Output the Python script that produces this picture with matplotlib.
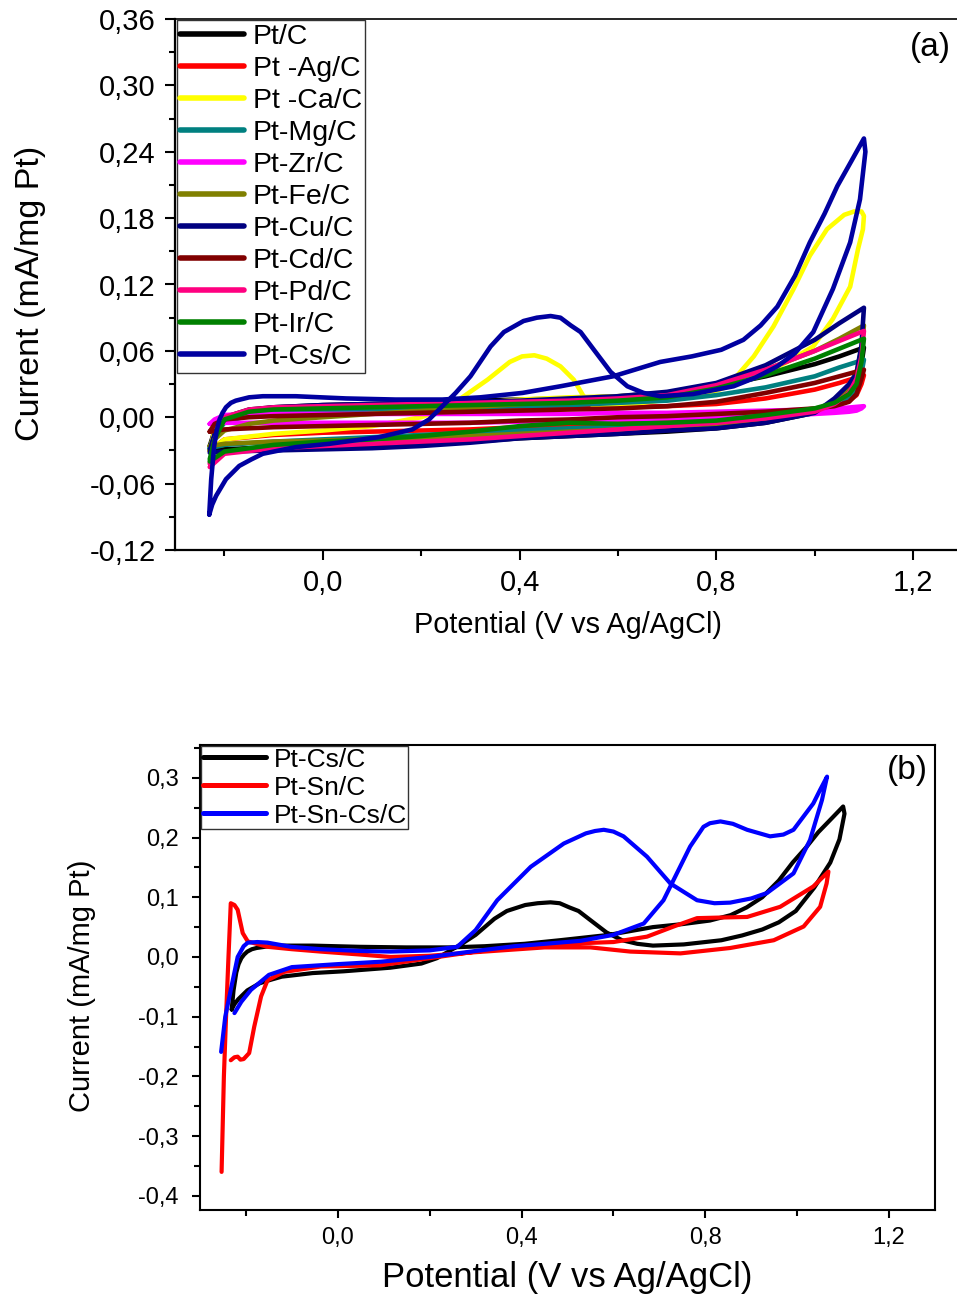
import numpy as np
import matplotlib
matplotlib.use('Agg')
import matplotlib.pyplot as plt
from matplotlib import font_manager
from matplotlib.ticker import MultipleLocator, FuncFormatter

names = {f.name for f in font_manager.fontManager.ttflist}
BASE = 'Liberation Sans' if 'Liberation Sans' in names else 'DejaVu Sans'
plt.rcParams['font.family'] = [BASE, 'DejaVu Sans']

# ---------------- Panel (a) data ----------------
E_fwd = [-0.23, -0.22, -0.20, -0.15, -0.10, 0.00, 0.10, 0.20, 0.30, 0.40, 0.50, 0.60,
         0.70, 0.80, 0.90, 1.00, 1.05, 1.10]
E_rev = [1.10, 1.095, 1.085, 1.07, 1.04, 1.00, 0.90, 0.80, 0.70, 0.60, 0.50, 0.40,
         0.30, 0.20, 0.10, 0.00, -0.10, -0.20, -0.23]

PtC_fwd = [-0.026, -0.012, 0.000, 0.007, 0.009, 0.011, 0.012, 0.013, 0.015, 0.016, 0.017, 0.019,
           0.022, 0.028, 0.037, 0.048, 0.055, 0.063]
PtC_rev = [0.063, 0.048, 0.030, 0.020, 0.011, 0.004, -0.005, -0.010, -0.013, -0.015, -0.017, -0.019,
           -0.022, -0.024, -0.025, -0.026, -0.027, -0.029, -0.030]

PtAg_fwd = [-0.030, -0.014, -0.003, 0.002, 0.003, 0.004, 0.005, 0.006, 0.006, 0.007, 0.008, 0.009,
            0.010, 0.012, 0.017, 0.025, 0.031, 0.038]
PtAg_rev = [0.038, 0.030, 0.020, 0.015, 0.010, 0.006, 0.002, -0.001, -0.003, -0.005, -0.007, -0.009,
            -0.011, -0.012, -0.013, -0.014, -0.016, -0.020, -0.030]

PtMg_fwd = [-0.028, -0.016, -0.005, 0.002, 0.004, 0.006, 0.007, 0.008, 0.009, 0.010, 0.011, 0.013,
            0.015, 0.020, 0.027, 0.037, 0.045, 0.052]
PtMg_rev = [0.052, 0.040, 0.026, 0.018, 0.010, 0.004, -0.003, -0.006, -0.008, -0.009, -0.010, -0.012,
            -0.014, -0.016, -0.018, -0.020, -0.022, -0.025, -0.028]

PtZr_fwd = [-0.006, -0.002, 0.002, 0.003, 0.003, 0.003, 0.003, 0.003, 0.003, 0.003, 0.003, 0.004,
            0.004, 0.005, 0.006, 0.007, 0.008, 0.010]
PtZr_rev = [0.010, 0.008, 0.006, 0.005, 0.004, 0.003, 0.001, 0.000, -0.001, -0.002, -0.003, -0.004,
            -0.005, -0.005, -0.005, -0.005, -0.005, -0.005, -0.006]

PtFe_fwd = [-0.026, -0.020, -0.012, -0.006, -0.003, 0.000, 0.003, 0.006, 0.009, 0.012, 0.014, 0.017,
            0.021, 0.030, 0.043, 0.060, 0.071, 0.083]
PtFe_rev = [0.083, 0.062, 0.040, 0.026, 0.014, 0.006, -0.002, -0.006, -0.009, -0.011, -0.013, -0.015,
            -0.017, -0.019, -0.020, -0.021, -0.022, -0.024, -0.026]

PtCu_fwd = [-0.030, -0.015, -0.002, 0.006, 0.009, 0.011, 0.012, 0.013, 0.014, 0.015, 0.017, 0.019,
            0.023, 0.031, 0.047, 0.070, 0.085, 0.099]
PtCu_rev = [0.099, 0.065, 0.040, 0.030, 0.017, 0.004, -0.005, -0.010, -0.012, -0.015, -0.017, -0.019,
            -0.023, -0.026, -0.028, -0.029, -0.030, -0.031, -0.032]

PtCd_fwd = [-0.013, -0.006, -0.002, 0.000, 0.001, 0.002, 0.003, 0.004, 0.005, 0.006, 0.007, 0.008,
            0.010, 0.014, 0.022, 0.031, 0.037, 0.043]
PtCd_rev = [0.043, 0.035, 0.021, 0.014, 0.010, 0.008, 0.005, 0.003, 0.001, 0.000, -0.002, -0.003,
            -0.005, -0.006, -0.007, -0.008, -0.009, -0.011, -0.013]

PtPd_fwd = [-0.042, -0.020, 0.000, 0.007, 0.009, 0.010, 0.011, 0.012, 0.013, 0.014, 0.015, 0.017,
            0.020, 0.029, 0.043, 0.060, 0.069, 0.078]
PtPd_rev = [0.078, 0.055, 0.035, 0.022, 0.012, 0.005, -0.001, -0.005, -0.008, -0.011, -0.014, -0.017,
            -0.020, -0.022, -0.024, -0.026, -0.028, -0.033, -0.045]

PtIr_fwd = [-0.038, -0.020, -0.002, 0.005, 0.007, 0.008, 0.009, 0.010, 0.011, 0.012, 0.013, 0.015,
            0.018, 0.026, 0.038, 0.053, 0.062, 0.071]
PtIr_rev = [0.071, 0.050, 0.030, 0.021, 0.013, 0.008, 0.002, -0.003, -0.005, -0.006, -0.005, -0.008,
            -0.013, -0.017, -0.020, -0.022, -0.025, -0.031, -0.040]

# Pt-Ca/C (own potential list)
PtCa_E = [-0.23, -0.22, -0.20, -0.15, -0.10, 0.00, 0.10, 0.20, 0.30, 0.40, 0.50, 0.60, 0.70, 0.80,
          0.835, 0.876, 0.916, 0.957, 0.99, 1.025, 1.06, 1.08, 1.095, 1.10, 1.098, 1.088, 1.072,
          1.037, 0.997, 0.944, 0.90, 0.80, 0.70, 0.60, 0.55, 0.53, 0.51, 0.483, 0.455, 0.43, 0.405,
          0.38, 0.335, 0.29, 0.25, 0.20, 0.10, 0.00, -0.10, -0.20, -0.23]
PtCa_I = [-0.030, -0.012, -0.002, 0.002, 0.003, 0.004, 0.006, 0.009, 0.012, 0.016, 0.018, 0.019,
          0.020, 0.025, 0.034, 0.055, 0.082, 0.116, 0.146, 0.170, 0.183, 0.186, 0.186, 0.182, 0.170,
          0.152, 0.118, 0.089, 0.064, 0.050, 0.040, 0.024, 0.016, 0.010, 0.010, 0.019, 0.034, 0.046,
          0.053, 0.056, 0.055, 0.050, 0.034, 0.020, 0.008, 0.000, -0.008, -0.012, -0.015, -0.020,
          -0.030]

# Pt-Cs/C (used in both panels)
PtCs_E = [-0.231, -0.229, -0.227, -0.221, -0.216, -0.210, -0.204, -0.197, -0.187, -0.177, -0.150,
          -0.122, -0.055, 0.047, 0.148, 0.243, 0.320, 0.406, 0.483, 0.590, 0.686, 0.750, 0.810,
          0.855, 0.890, 0.924, 0.960, 0.990, 1.020, 1.046, 1.075, 1.100, 1.103, 1.092, 1.072, 1.037,
          0.997, 0.960, 0.924, 0.880, 0.835, 0.753, 0.686, 0.652, 0.619, 0.585, 0.551, 0.524,
          0.504, 0.483, 0.463, 0.435, 0.408, 0.368, 0.341, 0.300, 0.270, 0.243, 0.216, 0.182,
          0.114, 0.013, -0.055, -0.122, -0.145, -0.170, -0.197, -0.217, -0.225, -0.231]
PtCs_I = [-0.088, -0.072, -0.056, -0.026, -0.012, -0.002, 0.004, 0.009, 0.013, 0.015, 0.018,
          0.019, 0.019, 0.017, 0.016, 0.016, 0.018, 0.022, 0.028, 0.037, 0.050, 0.055, 0.061,
          0.070, 0.083, 0.100, 0.128, 0.158, 0.184, 0.209, 0.232, 0.252, 0.240, 0.197, 0.158, 0.116,
          0.077, 0.058, 0.046, 0.036, 0.028, 0.021, 0.019, 0.022, 0.028, 0.041, 0.061, 0.077,
          0.083, 0.090, 0.0915, 0.090, 0.087, 0.077, 0.064, 0.037, 0.022, 0.010, -0.002, -0.011,
          -0.018, -0.024, -0.027, -0.033, -0.038, -0.044, -0.056, -0.071, -0.079, -0.088]

labels_a = ['Pt/C', 'Pt -Ag/C', 'Pt -Ca/C', 'Pt-Mg/C', 'Pt-Zr/C', 'Pt-Fe/C', 'Pt-Cu/C',
            'Pt-Cd/C', 'Pt-Pd/C', 'Pt-Ir/C', 'Pt-Cs/C']
colors_a = ['#000000', '#FF0000', '#FFFF00', '#008080', '#FF00FF', '#808000', '#000080',
            '#800000', '#FF0080', '#008000', '#0000A0']

# ---------------- Panel (b) data ----------------
PtSn_E = [-0.233, -0.225, -0.218, -0.212, -0.205, -0.193, -0.182, -0.167, -0.153, -0.117, -0.037,
          0.093, 0.200, 0.300, 0.383, 0.528, 0.600, 0.673, 0.731, 0.782, 0.833, 0.891, 0.963, 1.035,
          1.068, 1.064, 1.050, 1.014, 0.949, 0.854, 0.746, 0.637, 0.550, 0.450, 0.300, 0.200, 0.115,
          0.050, -0.037, -0.100, -0.153, -0.196, -0.207, -0.218, -0.225, -0.233, -0.238, -0.243,
          -0.248, -0.253]
PtSn_I = [-0.173, -0.168, -0.167, -0.172, -0.171, -0.161, -0.117, -0.066, -0.039, -0.025, -0.016,
          -0.014, -0.002, 0.009, 0.016, 0.023, 0.025, 0.034, 0.051, 0.065, 0.066, 0.067, 0.084, 0.118,
          0.143, 0.123, 0.084, 0.051, 0.028, 0.015, 0.006, 0.009, 0.016, 0.016, 0.008, 0.002, 0.000,
          0.004, 0.009, 0.013, 0.017, 0.026, 0.040, 0.079, 0.087, 0.090, 0.000, -0.094, -0.200, -0.360]

PtSnCs_E = [-0.254, -0.245, -0.233, -0.218, -0.205, -0.196, -0.175, -0.153, -0.102, -0.037, 0.050,
            0.115, 0.200, 0.260, 0.300, 0.347, 0.420, 0.492, 0.540, 0.560, 0.579, 0.600, 0.622, 0.673,
            0.724, 0.782, 0.820, 0.854, 0.900, 0.934, 0.992, 1.028, 1.054, 1.065, 1.050, 1.035, 0.992,
            0.970, 0.941, 0.891, 0.860, 0.833, 0.810, 0.796, 0.767, 0.738, 0.709, 0.666, 0.600, 0.528,
            0.450, 0.384, 0.300, 0.200, 0.093, 0.000, -0.100, -0.150, -0.189, -0.210, -0.225]
PtSnCs_I = [-0.159, -0.100, -0.055, 0.000, 0.018, 0.024, 0.025, 0.024, 0.017, 0.013, 0.010, 0.009,
            0.011, 0.017, 0.045, 0.095, 0.151, 0.190, 0.207, 0.211, 0.213, 0.210, 0.202, 0.168, 0.123,
            0.095, 0.090, 0.091, 0.098, 0.107, 0.140, 0.196, 0.263, 0.302, 0.280, 0.257, 0.213, 0.205,
            0.202, 0.213, 0.223, 0.227, 0.224, 0.218, 0.185, 0.140, 0.095, 0.056, 0.037, 0.027, 0.022,
            0.018, 0.010, 0.000, -0.008, -0.012, -0.017, -0.030, -0.055, -0.075, -0.094]

labels_b = ['Pt-Cs/C', 'Pt-Sn/C', 'Pt-Sn-Cs/C']
colors_b = ['#000000', '#FF0000', '#0000FF']

# ---------------- Figure ----------------
W, H = 957, 1298
fig = plt.figure(figsize=(W / 100, H / 100), dpi=100)
fig.patch.set_facecolor('white')

# ---- Panel (a)
ax1 = fig.add_axes([175.3 / W, 1 - 550 / H, 787 / W, 531 / H])
cluster = {'Pt/C': (PtC_fwd, PtC_rev), 'Pt -Ag/C': (PtAg_fwd, PtAg_rev),
           'Pt-Mg/C': (PtMg_fwd, PtMg_rev), 'Pt-Zr/C': (PtZr_fwd, PtZr_rev),
           'Pt-Fe/C': (PtFe_fwd, PtFe_rev), 'Pt-Cu/C': (PtCu_fwd, PtCu_rev),
           'Pt-Cd/C': (PtCd_fwd, PtCd_rev), 'Pt-Pd/C': (PtPd_fwd, PtPd_rev),
           'Pt-Ir/C': (PtIr_fwd, PtIr_rev)}
for i, (lab, col) in enumerate(zip(labels_a, colors_a)):
    if lab == 'Pt -Ca/C':
        x = np.array(PtCa_E); y = np.array(PtCa_I)
    elif lab == 'Pt-Cs/C':
        x = np.array(PtCs_E); y = np.array(PtCs_I)
    else:
        jf, jr = cluster[lab]
        x = np.concatenate([E_fwd, E_rev]); y = np.concatenate([jf, jr])
    ax1.plot(x, y, color=col, lw=3.3, label=lab, solid_joinstyle='round',
             solid_capstyle='round', zorder=2 + i * 0.1)

ax1.set_xlim(-0.3, 1.3)
ax1.set_ylim(-0.12, 0.36)
ax1.xaxis.set_major_locator(MultipleLocator(0.4))
ax1.xaxis.set_minor_locator(MultipleLocator(0.2))
ax1.yaxis.set_major_locator(MultipleLocator(0.06))
ax1.yaxis.set_minor_locator(MultipleLocator(0.03))
ax1.xaxis.set_major_formatter(FuncFormatter(lambda v, p: ('%.1f' % (0 if abs(v) < 1e-9 else v)).replace('.', ',')))
ax1.yaxis.set_major_formatter(FuncFormatter(lambda v, p: ('%.2f' % (0 if abs(v) < 1e-9 else v)).replace('.', ',')))
ax1.tick_params(axis='both', which='major', direction='out', length=7, width=1.5,
                labelsize=21, pad=7)
ax1.tick_params(axis='both', which='minor', direction='out', length=4, width=1.5)
ax1.tick_params(top=False, right=False)
for s in ['left', 'bottom']:
    ax1.spines[s].set_linewidth(1.6)
ax1.spines['top'].set_linewidth(1.2)
ax1.spines['right'].set_visible(False)

ax1.set_ylabel('Current (mA/mg Pt)', fontsize=24.5, va='center')
ax1.yaxis.set_label_coords(-0.1834, 0.484)
ax1.set_xlabel('Potential (V vs Ag/AgCl)', fontsize=20.8, va='center')
ax1.xaxis.set_label_coords(0.499, -0.141)
ax1.text(0.960, 0.947, '(a)', transform=ax1.transAxes, fontsize=24, ha='center', va='center')

leg1 = ax1.legend(loc='upper left', bbox_to_anchor=(0.0, 1.0), borderaxespad=0.05,
                  fontsize=20.5, frameon=True, fancybox=False, framealpha=1,
                  edgecolor='#333333', handlelength=2.25, handletextpad=0.3,
                  labelspacing=0.21, borderpad=0.12)
leg1.get_frame().set_linewidth(1.0)
for ln in leg1.get_lines():
    ln.set_linewidth(4.0)

# ---- Panel (b)
ax2 = fig.add_axes([200 / W, 1 - 1210 / H, 735 / W, 465 / H])
for lab, col, x, y in zip(labels_b, colors_b, [PtCs_E, PtSn_E, PtSnCs_E], [PtCs_I, PtSn_I, PtSnCs_I]):
    ax2.plot(x, y, color=col, lw=3.0, label=lab, solid_joinstyle='round', solid_capstyle='round')

ax2.set_xlim(-0.3, 1.3)
ax2.set_ylim(-0.4238, 0.355)
ax2.xaxis.set_major_locator(MultipleLocator(0.4))
ax2.xaxis.set_minor_locator(MultipleLocator(0.2))
ax2.yaxis.set_major_locator(MultipleLocator(0.1))
ax2.yaxis.set_minor_locator(MultipleLocator(0.05))
ax2.xaxis.set_major_formatter(FuncFormatter(lambda v, p: ('%.1f' % (0 if abs(v) < 1e-9 else v)).replace('.', ',')))
ax2.yaxis.set_major_formatter(FuncFormatter(lambda v, p: ('%.1f' % (0 if abs(v) < 1e-9 else v)).replace('.', ',')))
ax2.tick_params(axis='x', which='major', direction='out', length=6, width=1.5,
                labelsize=17, pad=6)
ax2.tick_params(axis='y', which='major', direction='out', length=6, width=1.5,
                labelsize=17, pad=9.5)
ax2.tick_params(axis='both', which='minor', direction='out', length=4, width=1.5)
for s in ax2.spines.values():
    s.set_linewidth(1.5)

ax2.set_ylabel('Current (mA/mg Pt)', fontsize=21, va='center')
ax2.yaxis.set_label_coords(-0.1605, 0.482)
ax2.set_xlabel('Potential (V vs Ag/AgCl)', fontsize=24.9, va='center')
ax2.xaxis.set_label_coords(0.499, -0.146)
ax2.text(0.962, 0.946, '(b)', transform=ax2.transAxes, fontsize=24, ha='center', va='center')

leg2 = ax2.legend(loc='upper left', bbox_to_anchor=(0.0, 1.0), borderaxespad=0.05,
                  fontsize=19, frameon=True, fancybox=False, framealpha=1,
                  edgecolor='#333333', handlelength=2.4, handletextpad=0.3,
                  labelspacing=0.15, borderpad=0.05)
leg2.get_frame().set_linewidth(1.0)
for ln in leg2.get_lines():
    ln.set_linewidth(3.6)

fig.savefig('out.png', dpi=100, facecolor='white')
